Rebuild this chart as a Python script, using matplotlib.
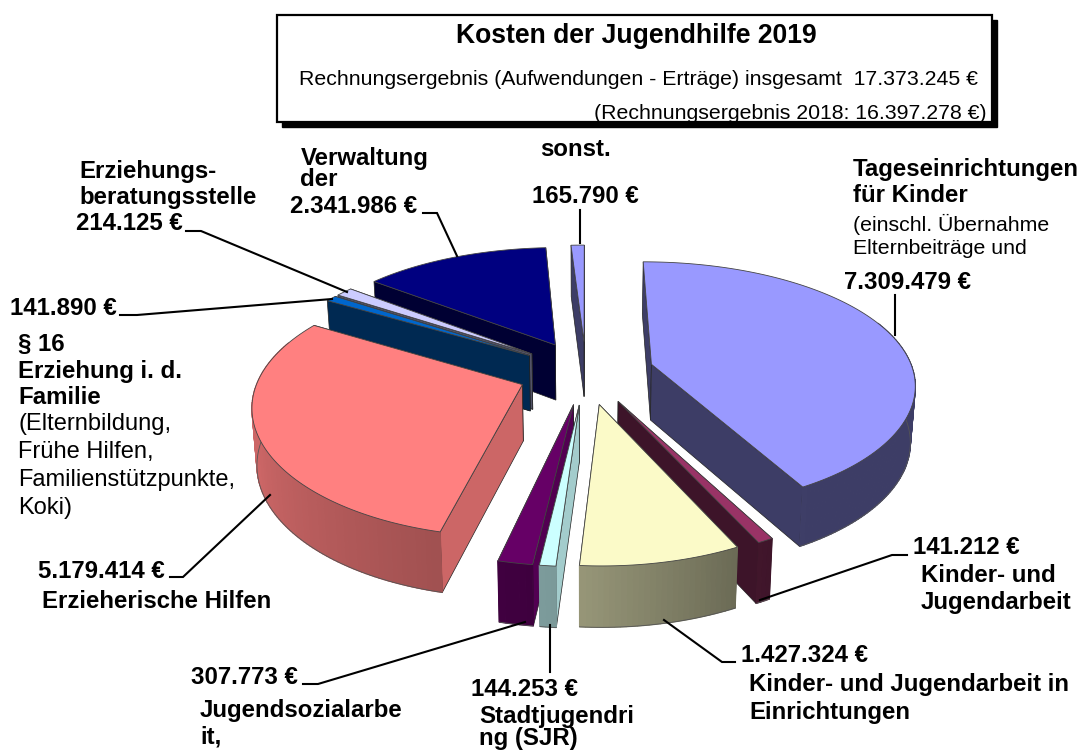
#!/usr/bin/env python3
import numpy as np
import matplotlib
matplotlib.use('Agg')
import matplotlib.pyplot as plt

plt.rcParams['font.family'] = ['Liberation Sans', 'DejaVu Sans']

# clockwise from 12 o'clock
categories = ['Tageseinrichtungen', 'Kinder- und Jugendarbeit', 'Kinder- und Jugendarbeit in Einrichtungen',
              'Stadtjugendring', 'Jugendsozialarbeit', 'Erzieherische Hilfen', 'Paragraph 16',
              'Erziehungsberatungsstelle', 'Verwaltung', 'sonst.']
values = [7309479, 141212, 1427324, 144253, 307773, 5179414, 141890, 214125, 2341986, 165790]
colors = ['#9999FF', '#993366', '#FBFAC8', '#CCFFFF', '#660066', '#FF8080', '#0066CC', '#CCCCFF', '#000080', '#9999FF']

total_2019 = '17.373.245 €'
total_2018 = '16.397.278 €'

# fake 3d camera, fitted by eye
CX, CY = 586, 372
RX, RY = 262, 122
PERSP = 0.1675
PERSP_X = 0.145
EXPLODE = 0.26
DEPTH = 56

BOLD = 17.3
NORMAL = 15.3


def project(x, y):
    return CX + RX * x / (1 + PERSP_X * y), CY - RY * y / (1 + PERSP * y)


def lower(x, y):
    sx, sy = project(x, y)
    return CX + (sx - CX) * 0.985, sy + DEPTH / (1 + 0.07 * y)


def shade(col, f):
    return tuple(c * f for c in matplotlib.colors.to_rgb(col))


def arc_shade(theta):
    return np.interp(theta, [0, 150, 184, 250, 360], [.4, .4, .6, .8, .8])


def cut_shade(theta):
    return .8 if 180 < theta < 300 else .4


def draw_cut(ox, oy, theta, col, z):
    t = np.radians(theta)
    ex, ey = ox + np.sin(t), oy + np.cos(t)
    pts = [project(ox, oy), project(ex, ey), lower(ex, ey), lower(ox, oy)]
    ax.fill(*zip(*pts), facecolor=shade(col, cut_shade(theta)), edgecolor='#222222', linewidth=.5, zorder=z)


def draw_slice(start, sweep, col, z):
    mid = np.radians(start + sweep / 2)
    ox, oy = EXPLODE * np.sin(mid), EXPLODE * np.cos(mid)
    th = np.linspace(start, start + sweep, max(int(sweep), 4))
    xs = ox + np.sin(np.radians(th))
    ys = oy + np.cos(np.radians(th))
    # cuts, the one further back first
    for a in sorted([start, start + sweep], key=lambda a: -np.cos(np.radians(a))):
        draw_cut(ox, oy, a, col, z)
    # outer wall, small quads so the shading runs along it, only the part facing us
    vis = np.cos(np.radians(th)) < 0.35
    for i in range(len(th) - 1):
        if not (vis[i] or vis[i + 1]):
            continue
        pts = [project(xs[i], ys[i]), project(xs[i + 1], ys[i + 1]),
               lower(xs[i + 1], ys[i + 1]), lower(xs[i], ys[i])]
        c = shade(col, arc_shade((th[i] + th[i + 1]) / 2))
        ax.fill(*zip(*pts), facecolor=c, edgecolor=c, linewidth=.9, zorder=z + .1)
    low = [lower(a, b) for a, b, v in zip(xs, ys, vis) if v]
    if low:
        ax.plot(*zip(*low), color='#555555', linewidth=.6, zorder=z + .2)
    top = [project(ox, oy)] + [project(a, b) for a, b in zip(xs, ys)]
    ax.fill(*zip(*top), facecolor=col, edgecolor='#444444', linewidth=.6, zorder=z + .3)


def money(v):
    return f'{v:,}'.replace(',', '.') + ' €'


def label(x, y, s, bold=True, size=None, **kw):
    ax.text(x, y + 1, s, fontweight='bold' if bold else 'normal', fontsize=size or (BOLD if bold else NORMAL),
            va='center', color='black', zorder=50, **kw)


def leader(*pts):
    ax.plot(*zip(*pts), color='black', linewidth=1.5, solid_joinstyle='miter', zorder=40)


fig = plt.figure(figsize=(10.83, 7.53), dpi=100)
ax = fig.add_axes([0, 0, 1, 1])
ax.set_xlim(0, 1083)
ax.set_ylim(753, 0)
ax.axis('off')

sweeps = 360 * np.array(values) / sum(values)
starts = np.concatenate([[0], np.cumsum(sweeps)[:-1]])

# back to front
order = sorted(range(len(values)), key=lambda i: -np.cos(np.radians(starts[i] + sweeps[i] / 2)))
for z, i in enumerate(order):
    draw_slice(starts[i], sweeps[i], colors[i], z + 2)

# leader lines
leader((580, 210), (580, 243))
leader((423, 213), (437, 213), (457, 256))
leader((186, 231), (201, 231), (347, 292))
leader((120, 315), (137, 315), (332, 299))
leader((895, 295), (895, 335))
leader((907, 555), (892, 555), (760, 600))
leader((664, 620), (722, 662), (735, 662))
leader((550, 625), (550, 672))
leader((525, 622), (318, 684), (303, 684))
leader((270, 495), (183, 577), (170, 577))

# title box with hard shadow
ax.fill([282, 997, 997, 282], [20, 20, 127, 127], facecolor='black', edgecolor='black', zorder=30)
ax.fill([277, 992, 992, 277], [15, 15, 122, 122], facecolor='white', edgecolor='black', linewidth=1.6, zorder=31)
label(636, 35, 'Kosten der Jugendhilfe 2019', size=19.1, ha='center')
label(978, 78, f'Rechnungsergebnis (Aufwendungen - Erträge) insgesamt  {total_2019}', bold=False, ha='right')
label(987, 112, f'(Rechnungsergebnis 2018: {total_2018})', bold=False, ha='right')

# labels
label(301, 157, 'Verwaltung')
label(300, 178, 'der')
label(290, 205, money(values[8]))
label(540, 148, 'sonst.')
label(532, 195, money(values[9]))
label(79, 170, 'Erziehungs-')
label(79, 196, 'beratungsstelle')
label(76, 222, money(values[7]))
label(853, 168, 'Tageseinrichtungen')
label(853, 194, 'für Kinder')
label(853, 223, '(einschl. Übernahme', bold=False)
label(853, 247, 'Elternbeiträge und', bold=False)
label(844, 281, money(values[0]))
label(10, 307, money(values[6]))
label(18, 343, '§ 16')
label(18, 370, 'Erziehung i. d.')
label(18, 396, 'Familie')
label(18, 423, '(Elternbildung,', bold=False, size=17)
label(18, 451, 'Frühe Hilfen,', bold=False, size=17)
label(18, 479, 'Familienstützpunkte,', bold=False, size=17)
label(18, 507, 'Koki)', bold=False, size=17)
label(38, 571, money(values[5]))
label(42, 600, 'Erzieherische Hilfen')
label(191, 676, money(values[4]))
label(200, 709, 'Jugendsozialarbe')
label(200, 736, 'it,')
label(471, 689, money(values[3]))
label(479, 715, 'Stadtjugendri')
label(479, 738, 'ng (SJR)')
label(741, 655, money(values[2]))
label(749, 683, 'Kinder- und Jugendarbeit in')
label(749, 712, 'Einrichtungen')
label(913, 546, money(values[1]))
label(921, 574, 'Kinder- und')
label(921, 601, 'Jugendarbeit')

fig.savefig('out.png', dpi=100)
